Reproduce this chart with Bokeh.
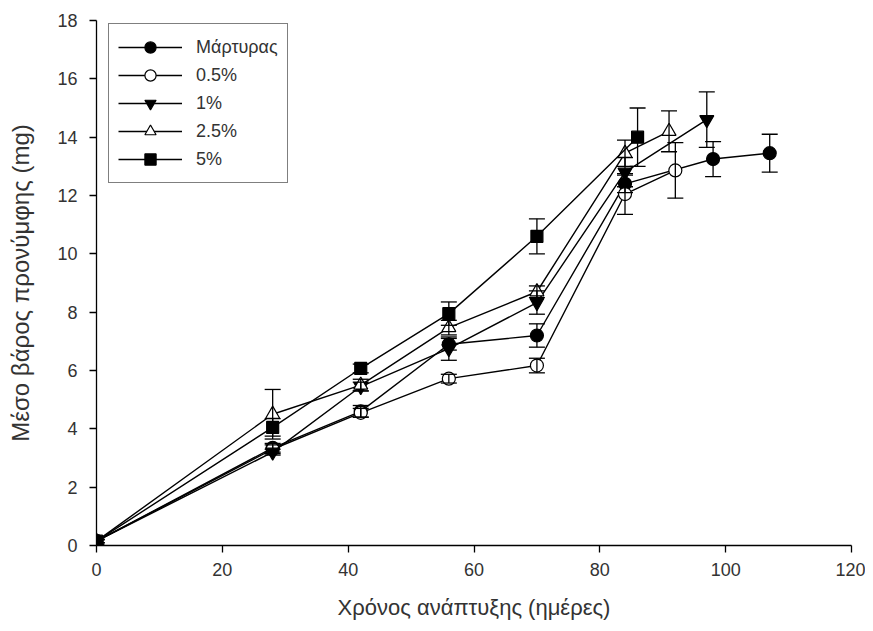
from bokeh.plotting import figure
from bokeh.models import ColumnDataSource, Whisker, TeeHead, Legend, LegendItem, Range1d, FixedTicker
from bokeh.embed import file_html
from bokeh.resources import INLINE

# ---- data ----
series_names = ["Μάρτυρας", "0.5%", "1%", "2.5%", "5%"]

days_ctrl = [0, 28, 42, 56, 70, 84, 98, 107]
mean_ctrl = [0.15, 3.35, 4.6, 6.9, 7.2, 12.4, 13.25, 13.45]
err_ctrl = [0.1, 0.15, 0.2, 0.2, 0.4, 0.3, 0.6, 0.65]

days_05 = [0, 28, 42, 56, 70, 84, 92]
mean_05 = [0.15, 3.3, 4.55, 5.72, 6.17, 12.05, 12.86]
err_05 = [0.05, 0.15, 0.15, 0.15, 0.25, 0.7, 0.95]

days_1 = [0, 28, 42, 56, 70, 84, 97]
mean_1 = [0.15, 3.2, 5.45, 6.75, 8.33, 12.8, 14.6]
err_1 = [0.05, 0.1, 0.15, 0.4, 0.4, 0.5, 0.95]

days_25 = [0, 28, 42, 56, 70, 84, 91]
mean_25 = [0.15, 4.5, 5.5, 7.47, 8.7, 13.45, 14.2]
err_25 = [0.05, 0.85, 0.2, 0.25, 0.2, 0.45, 0.7]

days_5 = [0, 28, 42, 56, 70, 86]
mean_5 = [0.15, 4.05, 6.07, 7.95, 10.6, 14.0]
err_5 = [0.05, 0.3, 0.15, 0.4, 0.6, 1.0]

x_ticks = [0, 20, 40, 60, 80, 100, 120]
y_ticks = [0, 2, 4, 6, 8, 10, 12, 14, 16, 18]

FONT = "Liberation Sans"

p = figure(width=865, height=623, output_backend="svg", toolbar_location=None,
           x_range=Range1d(0, 120), y_range=Range1d(0, 18),
           min_border_left=96, min_border_right=14, min_border_top=20, min_border_bottom=78)
p.outline_line_color = None
p.grid.visible = False
p.background_fill_color = "white"
p.border_fill_color = "white"

for ax in (p.xaxis[0], p.yaxis[0]):
    ax.axis_line_color = "black"
    ax.axis_line_width = 1.3
    ax.major_tick_line_color = "black"
    ax.major_tick_line_width = 1.3
    ax.major_tick_out = 7
    ax.major_tick_in = 0
    ax.minor_tick_line_color = None
    ax.major_label_text_font = FONT
    ax.major_label_text_font_size = "18px"
    ax.major_label_text_color = "#333333"
    ax.axis_label_text_font = FONT
    ax.axis_label_text_font_style = "normal"
    ax.axis_label_text_color = "#333333"

p.xaxis.axis_label_text_font_size = "22px"
p.yaxis.axis_label_text_font_size = "24px"
p.xaxis.ticker = FixedTicker(ticks=x_ticks)
p.yaxis.ticker = FixedTicker(ticks=y_ticks)
p.xaxis.axis_label = "Χρόνος ανάπτυξης (ημέρες)"
p.yaxis.axis_label = "Μέσο βάρος προνύμφης (mg)"
p.xaxis.major_label_standoff = 10
p.xaxis.axis_label_standoff = 16
p.yaxis.major_label_standoff = 12
p.yaxis.axis_label_standoff = 20

specs = [
    (days_ctrl, mean_ctrl, err_ctrl, "circle", "black"),
    (days_05, mean_05, err_05, "circle", "white"),
    (days_1, mean_1, err_1, "inverted_triangle", "black"),
    (days_25, mean_25, err_25, "triangle", "white"),
    (days_5, mean_5, err_5, "square", "black"),
]

items = []
for name, (xs, ys, es, mk, fill) in zip(series_names, specs):
    src = ColumnDataSource(dict(x=xs, y=ys,
                                lo=[a - b for a, b in zip(ys, es)],
                                hi=[a + b for a, b in zip(ys, es)]))
    w = Whisker(source=src, base="x", lower="lo", upper="hi", dimension="height",
                line_color="black", line_width=1.3, level="glyph",
                upper_head=TeeHead(size=16, line_color="black", line_width=1.3),
                lower_head=TeeHead(size=16, line_color="black", line_width=1.3))
    p.add_layout(w)
    ln = p.line("x", "y", source=src, line_color="black", line_width=1.4)
    sz = 13 if mk == "circle" else (14 if "triangle" in mk else 12)
    sc = p.scatter("x", "y", source=src, marker=mk, size=sz,
                   fill_color=fill, line_color="black", line_width=1.2)
    items.append(LegendItem(label=name, renderers=[ln, sc]))

legend = Legend(items=items, location=(12, 362),
                label_text_font=FONT, label_text_font_size="18px",
                label_text_color="#333333",
                glyph_width=64, glyph_height=28, spacing=0,
                padding=9, label_standoff=14,
                border_line_color="black", border_line_width=1.3,
                background_fill_alpha=1.0, margin=0)
p.add_layout(legend, "center")

open("out.html", "w").write(file_html(p, INLINE))
